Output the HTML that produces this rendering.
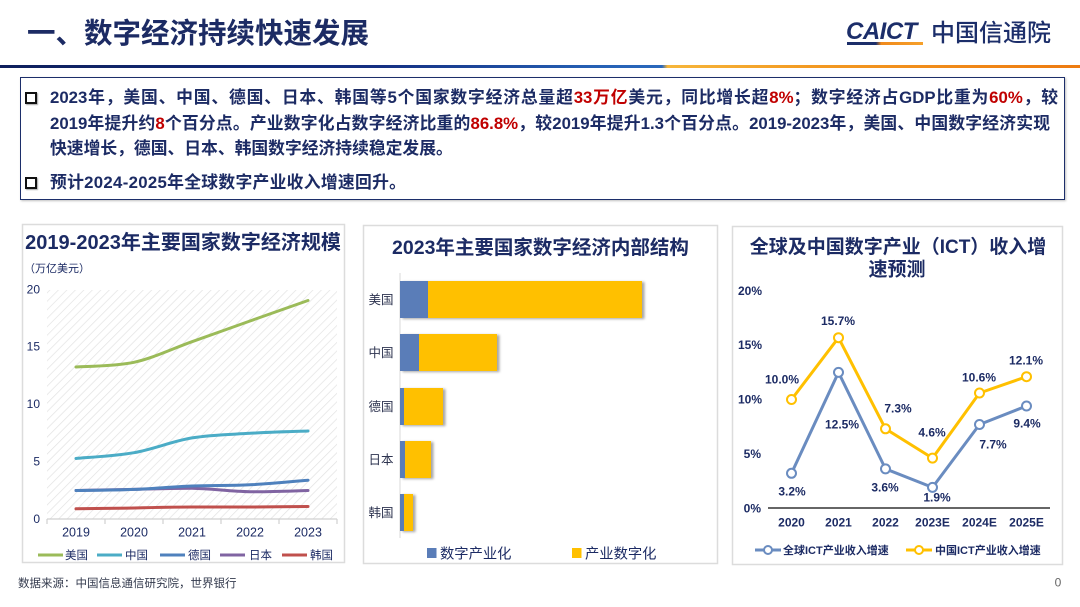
<!DOCTYPE html>
<html>
<head>
<meta charset="utf-8">
<style>
  html,body{margin:0;padding:0;background:#fff;}
  body{width:1080px;height:607px;position:relative;overflow:hidden;
    font-family:"Liberation Sans","Noto Sans CJK SC",sans-serif;}
  .abs{position:absolute;}
  .title{left:27px;top:14px;font-size:28.5px;font-weight:bold;color:#1c2b64;line-height:40px;white-space:nowrap;}
  .hline{left:0;top:65px;width:1080px;height:3px;
    background:linear-gradient(to right,#0e1f5c 0%,#142f82 35%,#2560b4 55%,#2a68bc 61.3%,#f6b63a 61.8%,#f39a22 75%,#ee7b10 100%);}
  .box{left:20px;top:77px;width:1043px;height:121px;border:1.6px solid #1c2e6a;box-shadow:1px 1px 2px rgba(0,0,0,0.25);}
  .ln{left:50px;height:26px;line-height:26px;font-size:16.8px;font-weight:bold;color:#1c2b64;white-space:nowrap;}
  .j{text-align:justify;text-align-last:justify;}
  .r{color:#c00000;}
  .cb{width:8px;height:8px;border:2.5px solid #111;box-shadow:1px 1px 1px rgba(0,0,0,0.35);background:#fff;}
  .logo{left:846px;top:17.5px;font-size:24px;font-weight:bold;font-style:italic;color:#1c2e6a;letter-spacing:-0.5px;line-height:28px;}
  .logoline{left:847px;top:42px;width:76px;height:2.5px;background:linear-gradient(to right,#1c2e6a 0%,#1c2e6a 38%,#f08a1c 45%,#f6a02a 100%);}
  .cn{left:931px;top:18px;font-size:24px;font-weight:500;color:#1c2e6a;line-height:32px;white-space:nowrap;}
</style>
</head>
<body>
<div class="abs title">一、数字经济持续快速发展</div>
<div class="abs logo">CAICT</div>
<div class="abs logoline"></div>
<div class="abs cn">中国信通院</div>
<div class="abs hline"></div>

<div class="abs box"></div>
<div class="abs cb" style="left:25px;top:92px;"></div>
<div class="abs ln j" style="top:85px;width:1008px;">2023年，美国、中国、德国、日本、韩国等5个国家数字经济总量超<span class="r">33万亿</span>美元，同比增长超<span class="r">8%</span>；数字经济占GDP比重为<span class="r">60%</span>，较</div>
<div class="abs ln j" style="top:111px;width:1000px;">2019年提升约<span class="r">8</span>个百分点。产业数字化占数字经济比重的<span class="r">86.8%</span>，较2019年提升1.3个百分点。2019-2023年，美国、中国数字经济实现</div>
<div class="abs ln" style="top:136px;">快速增长，德国、日本、韩国数字经济持续稳定发展。</div>
<div class="abs cb" style="left:25px;top:177px;"></div>
<div class="abs ln" style="top:170px;letter-spacing:0.3px;">预计2024-2025年全球数字产业收入增速回升。</div>

<svg class="abs" style="left:0;top:0;" width="1080" height="607" viewBox="0 0 1080 607" font-family="Liberation Sans, Noto Sans CJK SC, sans-serif">
  <defs>
    <pattern id="hatch" patternUnits="userSpaceOnUse" width="6" height="6" patternTransform="rotate(45)">
      <line x1="0" y1="0" x2="0" y2="6" stroke="#e2e2e2" stroke-width="1.4"/>
    </pattern>
    <filter id="sh" x="-5%" y="-10%" width="120%" height="130%">
      <feDropShadow dx="2.5" dy="1" stdDeviation="1.2" flood-color="#000" flood-opacity="0.35"/>
    </filter>
  </defs>

  <!-- ========== LEFT PANEL ========== -->
  <rect x="22.5" y="224.5" width="322" height="338" fill="#fff" stroke="#dcdcdc" stroke-width="1.5"/>
  <text x="183" y="249" font-size="20" font-weight="bold" fill="#1c2b64" text-anchor="middle">2019-2023年主要国家数字经济规模</text>
  <text x="24" y="272" font-size="11" fill="#1c2b64">（万亿美元）</text>
  <rect x="47" y="290" width="290" height="229" fill="url(#hatch)"/>
  <g font-size="12" fill="#1c2b64" text-anchor="end">
    <text x="40" y="293.5">20</text>
    <text x="40" y="350.5">15</text>
    <text x="40" y="408">10</text>
    <text x="40" y="465.5">5</text>
    <text x="40" y="523">0</text>
  </g>
  <g stroke="#d0d0d0" stroke-width="1.2">
    <line x1="47" y1="519" x2="337" y2="519"/>
    <line x1="47" y1="519" x2="47" y2="524"/>
    <line x1="105" y1="519" x2="105" y2="524"/>
    <line x1="163" y1="519" x2="163" y2="524"/>
    <line x1="221" y1="519" x2="221" y2="524"/>
    <line x1="279" y1="519" x2="279" y2="524"/>
    <line x1="337" y1="519" x2="337" y2="524"/>
  </g>
  <g fill="none" stroke-width="3" stroke-linecap="round">
    <path d="M76,367 C85.7,366.2 114.7,366.5 134,362.3 C153.3,358.1 172.7,348.6 192,341.7 C211.3,334.8 230.7,327.9 250,321 C269.3,314.1 298.3,303.9 308,300.5" stroke="#9bbb59"/>
    <path d="M76,458.5 C85.7,457.5 114.7,456.1 134,452.7 C153.3,449.3 172.7,441.1 192,437.9 C211.3,434.7 230.7,434.5 250,433.3 C269.3,432.1 298.3,431.4 308,431" stroke="#4bacc6"/>
    <path d="M76,490.5 C85.7,490.3 114.7,489.6 134,489.4 C153.3,489 172.7,488.2 192,488.2 C211.3,488.6 230.7,491.3 250,491.7 C269.3,492.1 298.3,490.7 308,490.5" stroke="#8064a2"/>
    <path d="M76,490.5 C85.7,490.3 114.7,490.2 134,489.4 C153.3,488.6 172.7,486.8 192,486 C211.3,485.2 230.7,485.8 250,484.8 C269.3,483.8 298.3,481 308,480.2" stroke="#4f81bd"/>
    <path d="M76,508.8 C95,508.6 115,508.3 134,508 C153,507.5 173,507 192,507 C211,507 231,507 250,507 C269,506.9 289,506.6 308,506.5" stroke="#c0504d"/>
  </g>
  <g font-size="12.5" fill="#1c2b64" text-anchor="middle">
    <text x="76" y="536.5">2019</text>
    <text x="134" y="536.5">2020</text>
    <text x="192" y="536.5">2021</text>
    <text x="250" y="536.5">2022</text>
    <text x="308" y="536.5">2023</text>
  </g>
  <g stroke-width="3">
    <line x1="38" y1="555" x2="63" y2="555" stroke="#9bbb59"/>
    <line x1="97" y1="555" x2="122" y2="555" stroke="#4bacc6"/>
    <line x1="160" y1="555" x2="185" y2="555" stroke="#4f81bd"/>
    <line x1="220" y1="555" x2="245" y2="555" stroke="#8064a2"/>
    <line x1="282" y1="555" x2="307" y2="555" stroke="#c0504d"/>
  </g>
  <g font-size="11.5" fill="#1c2b64">
    <text x="65" y="559">美国</text>
    <text x="125" y="559">中国</text>
    <text x="188" y="559">德国</text>
    <text x="249" y="559">日本</text>
    <text x="310" y="559">韩国</text>
  </g>

  <!-- ========== MIDDLE PANEL ========== -->
  <rect x="363.5" y="225.5" width="354" height="338" fill="#fff" stroke="#dcdcdc" stroke-width="1.5"/>
  <text x="540.5" y="254" font-size="19.5" font-weight="bold" fill="#1c2b64" text-anchor="middle">2023年主要国家数字经济内部结构</text>
  <line x1="400" y1="273" x2="400" y2="538" stroke="#d9d9d9" stroke-width="1"/>
  <g filter="url(#sh)">
    <rect x="400" y="281" width="242" height="37" fill="#ffc000"/>
    <rect x="400" y="334" width="97" height="37" fill="#ffc000"/>
    <rect x="400" y="388" width="43" height="37" fill="#ffc000"/>
    <rect x="400" y="441" width="31" height="37" fill="#ffc000"/>
    <rect x="400" y="494" width="13" height="37" fill="#ffc000"/>
  </g>
  <g fill="#5a7db8">
    <rect x="400" y="281" width="28" height="37"/>
    <rect x="400" y="334" width="19" height="37"/>
    <rect x="400" y="388" width="4" height="37"/>
    <rect x="400" y="441" width="5" height="37"/>
    <rect x="400" y="494" width="4" height="37"/>
  </g>
  <g font-size="12.5" fill="#2e3450" text-anchor="middle">
    <text x="381" y="304">美国</text>
    <text x="381" y="357">中国</text>
    <text x="381" y="411">德国</text>
    <text x="381" y="464">日本</text>
    <text x="381" y="517">韩国</text>
  </g>
  <rect x="427" y="548" width="9.5" height="10" fill="#5a7db8"/>
  <text x="440" y="558.5" font-size="14.3" fill="#1c2b64">数字产业化</text>
  <rect x="572" y="548" width="9.5" height="10" fill="#ffc000"/>
  <text x="585" y="558.5" font-size="14.3" fill="#1c2b64">产业数字化</text>

  <!-- ========== RIGHT PANEL ========== -->
  <rect x="732.5" y="226.5" width="330" height="338" fill="#fff" stroke="#dcdcdc" stroke-width="1.5"/>
  <text x="898" y="253" font-size="19" font-weight="bold" fill="#1c2b64" text-anchor="middle">全球及中国数字产业（ICT）收入增</text>
  <text x="897" y="275.5" font-size="19" font-weight="bold" fill="#1c2b64" text-anchor="middle">速预测</text>
  <g font-size="12" font-weight="bold" fill="#1c2b64" text-anchor="end">
    <text x="762" y="295">20%</text>
    <text x="762" y="349">15%</text>
    <text x="762" y="403.5">10%</text>
    <text x="761" y="458">5%</text>
    <text x="761" y="512.5">0%</text>
  </g>
  <line x1="768" y1="508" x2="1050" y2="508" stroke="#333" stroke-width="1.5"/>
  <polyline points="791.5,399.5 838.5,337.7 885.5,428.8 932.5,458.1 979.5,393 1026.5,376.7" fill="none" stroke="#ffc000" stroke-width="3" stroke-linejoin="round"/>
  <polyline points="791.5,473.3 838.5,372.4 885.5,468.9 932.5,487.4 979.5,424.5 1026.5,406" fill="none" stroke="#6a8cc0" stroke-width="3" stroke-linejoin="round"/>
  <g fill="#fff" stroke="#ffc000" stroke-width="2">
    <circle cx="791.5" cy="399.5" r="4.5"/>
    <circle cx="838.5" cy="337.7" r="4.5"/>
    <circle cx="885.5" cy="428.8" r="4.5"/>
    <circle cx="932.5" cy="458.1" r="4.5"/>
    <circle cx="979.5" cy="393" r="4.5"/>
    <circle cx="1026.5" cy="376.7" r="4.5"/>
  </g>
  <g fill="#fff" stroke="#6a8cc0" stroke-width="2">
    <circle cx="791.5" cy="473.3" r="4.5"/>
    <circle cx="838.5" cy="372.4" r="4.5"/>
    <circle cx="885.5" cy="468.9" r="4.5"/>
    <circle cx="932.5" cy="487.4" r="4.5"/>
    <circle cx="979.5" cy="424.5" r="4.5"/>
    <circle cx="1026.5" cy="406" r="4.5"/>
  </g>
  <g font-size="12" font-weight="bold" fill="#1c2b64" text-anchor="middle">
    <text x="782" y="383.5">10.0%</text>
    <text x="838" y="325">15.7%</text>
    <text x="898" y="412.5">7.3%</text>
    <text x="932" y="436.5">4.6%</text>
    <text x="979" y="381.5">10.6%</text>
    <text x="1026" y="364.5">12.1%</text>
    <text x="792" y="495.5">3.2%</text>
    <text x="842" y="428.5">12.5%</text>
    <text x="885" y="491.5">3.6%</text>
    <text x="937" y="501.5">1.9%</text>
    <text x="993" y="448.5">7.7%</text>
    <text x="1027" y="427.5">9.4%</text>
  </g>
  <g font-size="12" font-weight="bold" fill="#1c2b64" text-anchor="middle">
    <text x="791.5" y="526.5">2020</text>
    <text x="838.5" y="526.5">2021</text>
    <text x="885.5" y="526.5">2022</text>
    <text x="932.5" y="526.5">2023E</text>
    <text x="979.5" y="526.5">2024E</text>
    <text x="1026.5" y="526.5">2025E</text>
  </g>
  <line x1="755" y1="550" x2="781" y2="550" stroke="#6a8cc0" stroke-width="3"/>
  <circle cx="768" cy="550" r="4" fill="#fff" stroke="#6a8cc0" stroke-width="2"/>
  <text x="783" y="554" font-size="11" font-weight="bold" fill="#1c2b64">全球ICT产业收入增速</text>
  <line x1="906" y1="550" x2="932" y2="550" stroke="#ffc000" stroke-width="3"/>
  <circle cx="919" cy="550" r="4" fill="#fff" stroke="#ffc000" stroke-width="2"/>
  <text x="935" y="554" font-size="11" font-weight="bold" fill="#1c2b64">中国ICT产业收入增速</text>

  <!-- footer -->
  <text x="18" y="587" font-size="11.5" fill="#333a4d">数据来源：中国信息通信研究院，世界银行</text>
  <text x="1058" y="586.5" font-size="12" fill="#666" text-anchor="middle">0</text>
</svg>
</body>
</html>
